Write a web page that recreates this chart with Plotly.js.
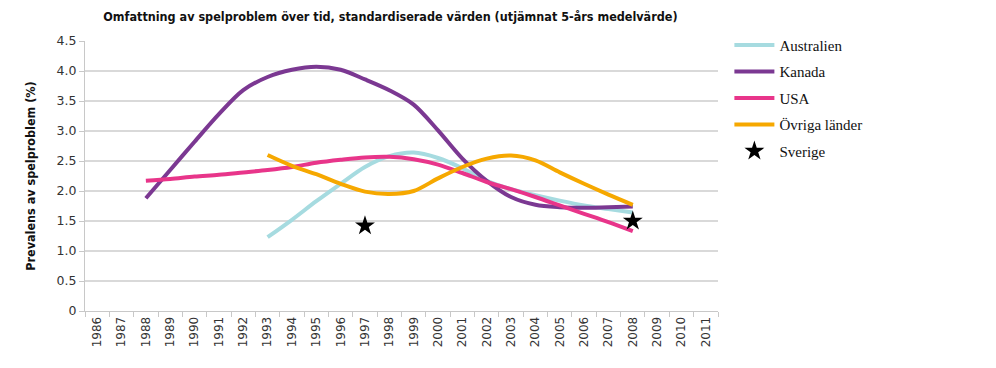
<!DOCTYPE html>
<html>
<head>
<meta charset="utf-8">
<script src="https://cdn.plot.ly/plotly-3.0.1.min.js"></script>
<style>html,body{margin:0;padding:0;background:#fff;}#chart{width:996px;height:368px;}</style>
</head>
<body>
<div id="chart"></div>
<script>
const years = [1986,1987,1988,1989,1990,1991,1992,1993,1994,1995,1996,1997,1998,1999,2000,2001,2002,2003,2004,2005,2006,2007,2008,2009,2010,2011];
const tickLabels = years.map(String);

const kanadaYears = [1988,1989,1990,1991,1992,1993,1994,1995,1996,1997,1998,1999,2000,2001,2002,2003,2004,2005,2006,2007,2008];
const kanada = [1.88,2.35,2.82,3.28,3.68,3.90,4.02,4.07,4.02,3.86,3.68,3.44,3.01,2.54,2.17,1.90,1.77,1.73,1.72,1.73,1.74];

const usaYears = kanadaYears;
const usa = [2.17,2.20,2.24,2.27,2.31,2.35,2.40,2.47,2.52,2.56,2.57,2.53,2.44,2.30,2.15,2.03,1.90,1.76,1.62,1.48,1.33];

const ausYears = [1993,1994,1995,1996,1997,1998,1999,2000,2001,2002,2003,2004,2005,2006,2007,2008];
const australien = [1.23,1.52,1.83,2.12,2.40,2.58,2.64,2.55,2.38,2.17,2.03,1.93,1.84,1.76,1.70,1.64];

const ovrigaYears = ausYears;
const ovriga = [2.60,2.42,2.28,2.12,1.99,1.95,2.00,2.21,2.40,2.54,2.59,2.51,2.31,2.12,1.94,1.77];

const sverigeYears = [1997,2008];
const sverige = [1.42,1.50];

function line(name, x, y, color, grp) {
  return {type:'scatter', mode:'lines', name:name, x:x, y:y, legendgroup:grp,
    line:{color:color, width:4, shape:'spline', smoothing:0.9}, hoverinfo:'skip'};
}

const data = [
  line('Australien', ausYears, australien, '#a6dbe0', 'a'),
  line('Kanada', kanadaYears, kanada, '#7b3892', 'b'),
  line('USA', usaYears, usa, '#e8358a', 'c'),
  line('Övriga länder', ovrigaYears, ovriga, '#f6a800', 'd'),
  {type:'scatter', mode:'markers', name:'Sverige', x:sverigeYears, y:sverige, legendgroup:'e',
   marker:{symbol:'star', size:15, color:'#000'}, hoverinfo:'skip'}
];

const layout = {
  width:996, height:368,
  margin:{l:85, r:278, t:41, b:57},
  paper_bgcolor:'#fff', plot_bgcolor:'#fff',
  showlegend:true,
  title:{text:'Omfattning av spelproblem över tid, standardiserade värden (utjämnat 5-års medelvärde)',
    font:{family:'DejaVu Sans Condensed, DejaVu Sans', size:12.5, color:'#111', weight:'bold'},
    x:0.392, xanchor:'center', y:0.955, yanchor:'middle'},
  xaxis:{
    range:[1985.5, 2011.5],
    tickmode:'array', tickvals:years, ticktext:tickLabels,
    tickangle:-90, ticks:'',
    tickfont:{family:'DejaVu Sans', size:12, color:'#333'},
    showgrid:false, zeroline:false,
    showline:true, linecolor:'#c8c8c8', linewidth:1,
    minor:{tick0:1985.5, dtick:1, ticks:'outside', ticklen:5, tickcolor:'#c8c8c8', showgrid:false}
  },
  yaxis:{
    range:[0,4.5], tickvals:[0,0.5,1,1.5,2,2.5,3,3.5,4,4.5],
    ticktext:['0','0.5','1.0','1.5','2.0','2.5','3.0','3.5','4.0','4.5'],
    tickfont:{family:'DejaVu Sans', size:12.5, color:'#333'},
    ticks:'outside', ticklen:5, tickcolor:'#c8c8c8',
    showgrid:true, gridcolor:'#d9d9d9', gridwidth:1.5, zeroline:false,
    showline:true, linecolor:'#c8c8c8', linewidth:1,
    title:{text:'Prevalens av spelproblem (%)', standoff:18,
      font:{family:'DejaVu Sans Condensed, DejaVu Sans', size:12.5, color:'#111', weight:'bold'}}
  },
  legend:{x:1.018, xanchor:'left', y:1.045, yanchor:'top',
    font:{family:'Liberation Serif', size:15, color:'#111'},
    tracegroupgap:4, itemwidth:40, bgcolor:'rgba(0,0,0,0)'}
};

Plotly.newPlot('chart', data, layout, {displayModeBar:false, staticPlot:true});
</script>
</body>
</html>
